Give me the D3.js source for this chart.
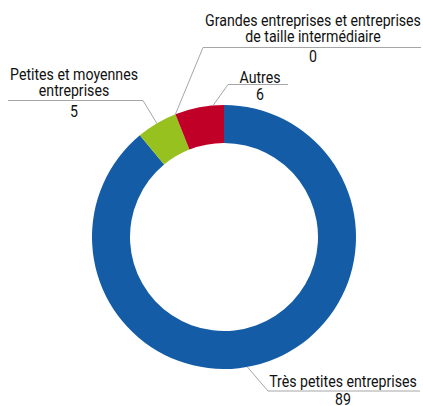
<!DOCTYPE html>
<html>
<head>
<meta charset="utf-8">
<script src="https://cdn.jsdelivr.net/npm/d3@7"></script>
<style>
  body { margin: 0; background: #fff; }
  text { font-family: Roboto, "Noto Sans", sans-serif; font-size: 16px; fill: #111; }
</style>
</head>
<body>
<div id="chart"></div>
<script>
const categories = ["Très petites entreprises", "Petites et moyennes entreprises",
                    "Grandes entreprises et entreprises de taille intermédiaire", "Autres"];
const values = [89, 5, 0, 6];
const colors = ["#145da6", "#97c11f", "#7f7f7f", "#c00027"];

// label layout: wrapped lines, centre x, baselines, rule y and extent, anchor fraction along the slice
const labelLines = [
  ["Très petites entreprises"],
  ["Petites et moyennes", "entreprises"],
  ["Grandes entreprises et entreprises", "de taille intermédiaire"],
  ["Autres"]
];
const labelLayout = [
  {cx: 343, lastY: 387, valueY: 404.5, ruleY: 391, x0: 268, x1: 420, side: "left", frac: 0.53},
  {cx: 74, lastY: 96, valueY: 116.5, ruleY: 100.5, x0: 8, x1: 143, side: "right", frac: 0.5},
  {cx: 313, lastY: 42, valueY: 62, ruleY: 47.5, x0: 203, x1: 421, side: "left", frac: 0.5},
  {cx: 260, lastY: 82.5, valueY: 99.5, ruleY: 84.5, x0: 228, x1: 288, side: "left", frac: 0.78}
];
const lineH = 16.5;

const width = 423, height = 406;
const cx = 224, cy = 237, outerR = 132, innerR = 94;

const svg = d3.select("#chart")
  .append("svg")
    .attr("width", width)
    .attr("height", height);

const data = categories.map((c, i) => ({name: c, value: values[i], i: i}));

const pie = d3.pie()
  .sort(null)
  .value(d => d.value)
  .startAngle(0)
  .endAngle(2 * Math.PI);

const arcs = pie(data);

const arc = d3.arc()
  .innerRadius(innerR)
  .outerRadius(outerR);

const g = svg.append("g")
  .attr("transform", `translate(${cx},${cy})`);

g.selectAll("path")
  .data(arcs.filter(d => d.value > 0))
  .join("path")
    .attr("d", arc)
    .attr("fill", d => colors[d.data.i]);

// the reference uses a condensed face; measure one line and squeeze all text to match
const probe = svg.append("text").text("Grandes entreprises et entreprises");
const squeeze = 216 / probe.node().getComputedTextLength();
probe.remove();

function addText(x, y, t) {
  svg.append("text")
    .attr("transform", `translate(${x},${y}) scale(${squeeze},1)`)
    .attr("text-anchor", "middle")
    .text(t);
}

arcs.forEach(d => {
  const L = labelLayout[d.data.i];
  const a = d.startAngle + (d.endAngle - d.startAngle) * L.frac;
  const px = cx + outerR * Math.sin(a), py = cy - outerR * Math.cos(a);
  const near = L.side === "left" ? L.x0 : L.x1;
  const far = L.side === "left" ? L.x1 : L.x0;
  svg.append("polyline")
    .attr("points", `${px},${py} ${near},${L.ruleY} ${far},${L.ruleY}`)
    .attr("fill", "none")
    .attr("stroke", "#a6a6a6")
    .attr("stroke-width", 1);

  const lines = labelLines[d.data.i];
  lines.forEach((t, k) => {
    addText(L.cx, L.lastY - (lines.length - 1 - k) * lineH, t);
  });
  addText(L.cx, L.valueY, d.data.value);
});
</script>
</body>
</html>
